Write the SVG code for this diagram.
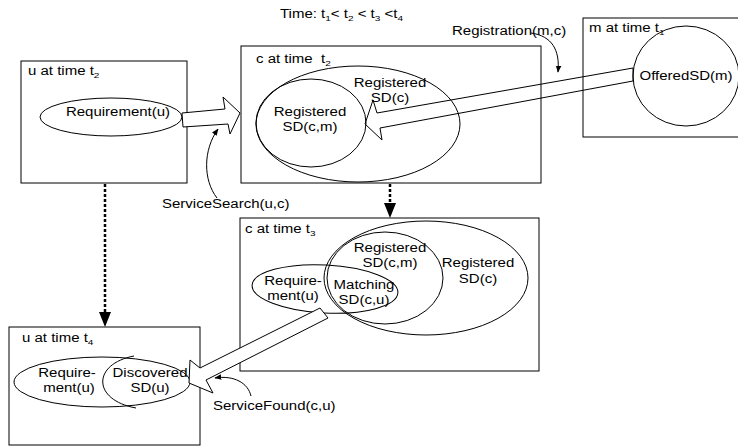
<svg xmlns="http://www.w3.org/2000/svg" width="738" height="447" viewBox="0 0 738 447">
<defs>
<style>
.box{fill:#fff;stroke:#000;stroke-width:1}
.ell{fill:none;stroke:#000;stroke-width:1}
.t{font-family:"Liberation Sans",Arial,sans-serif;font-size:12px;fill:#000}
.m{text-anchor:middle}
.s{font-size:8px}
.blk{fill:#fff;stroke:#000;stroke-width:1}
.hol{fill:none;stroke:#000;stroke-width:1}
.dot{fill:none;stroke:#000;stroke-width:2.5;stroke-dasharray:3 2}
.cur{fill:none;stroke:#000;stroke-width:1;marker-end:url(#ah)}
</style>
<marker id="ah" viewBox="0 0 10 10" refX="9" refY="5" markerWidth="7" markerHeight="7" markerUnits="userSpaceOnUse" orient="auto"><path d="M0,1 L10,5 L0,9 z" fill="#000"/></marker>
</defs>
<rect width="738" height="447" fill="#fff"/>

<!-- time ordering -->
<text class="t" transform="translate(280 18) scale(1.25 1)">Time: t<tspan class="s" dy="3">1</tspan><tspan dy="-3">&lt; t</tspan><tspan class="s" dy="3">2</tspan><tspan dy="-3"> &lt; t</tspan><tspan class="s" dy="3">3</tspan><tspan dy="-3"> &lt;t</tspan><tspan class="s" dy="3">4</tspan></text>

<!-- user at t2 -->
<g id="u-t2">
<rect class="box" x="21" y="61" width="166" height="122"/>
<text class="t" transform="translate(28 75) scale(1.25 1)">u at time t<tspan class="s" dy="3">2</tspan></text>
<ellipse class="ell" cx="111" cy="117" rx="71" ry="19"/>
<text class="t m" transform="translate(118 116) scale(1.25 1)">Requirement(u)</text>
</g>

<!-- client at t2 -->
<g id="c-t2">
<rect class="box" x="241" y="46" width="300" height="137"/>
<text class="t" transform="translate(256 63) scale(1.25 1)">c at time&#160; t<tspan class="s" dy="3">2</tspan></text>
<ellipse class="ell" cx="358" cy="124" rx="102" ry="58"/>
<ellipse class="ell" cx="311" cy="123" rx="55" ry="44"/>
<text class="t m" transform="translate(390 87) scale(1.25 1)">Registered</text>
<text class="t m" transform="translate(390 102) scale(1.25 1)">SD(c)</text>
<text class="t m" transform="translate(310 116) scale(1.25 1)">Registered</text>
<text class="t m" transform="translate(310 131) scale(1.25 1)">SD(c,m)</text>
</g>

<!-- provider at t1 -->
<g id="m-t1">
<rect class="box" x="583" y="18" width="160" height="119"/>
<text class="t" transform="translate(589 32) scale(1.25 1)">m at time t<tspan class="s" dy="3">1</tspan></text>
<ellipse class="ell" cx="686" cy="76" rx="53" ry="50"/>
<text class="t m" transform="translate(686 80) scale(1.25 1)">OfferedSD(m)</text>
</g>

<!-- client at t3 -->
<g id="c-t3">
<rect class="box" x="240" y="218" width="299" height="153"/>
<text class="t" transform="translate(245 233) scale(1.25 1)">c at time t<tspan class="s" dy="3">3</tspan></text>
<ellipse class="ell" cx="426" cy="278" rx="102" ry="57"/>
<ellipse class="ell" cx="385" cy="278" rx="58" ry="46"/>
<ellipse class="ell" cx="325" cy="289" rx="73" ry="24" transform="rotate(3 325 289)"/>
<text class="t m" transform="translate(390 252) scale(1.25 1)">Registered</text>
<text class="t m" transform="translate(390 267) scale(1.25 1)">SD(c,m)</text>
<text class="t m" transform="translate(478 267) scale(1.25 1)">Registered</text>
<text class="t m" transform="translate(478 283) scale(1.25 1)">SD(c)</text>
<text class="t m" transform="translate(293 285) scale(1.25 1)">Require-</text>
<text class="t m" transform="translate(293 300) scale(1.25 1)">ment(u)</text>
<text class="t m" transform="translate(364 289) scale(1.25 1)">Matching</text>
<text class="t m" transform="translate(364 304) scale(1.25 1)">SD(c,u)</text>
</g>

<!-- user at t4: requirement set with the discovered part on its right -->
<g id="u-t4">
<rect class="box" x="9" y="327" width="191" height="118"/>
<text class="t" transform="translate(22 342) scale(1.25 1)">u at time t<tspan class="s" dy="3">4</tspan></text>
<ellipse class="ell" cx="102" cy="382" rx="88" ry="25"/>
<path class="ell" d="M134,356 C92,364 92,400 136,408"/>
<text class="t m" transform="translate(67 377) scale(1.25 1)">Require-</text>
<text class="t m" transform="translate(69 392) scale(1.25 1)">ment(u)</text>
<text class="t m" transform="translate(150 377) scale(1.25 1)">Discovered</text>
<text class="t m" transform="translate(150 392) scale(1.25 1)">SD(u)</text>
</g>

<!-- messages and time steps -->
<g id="connectors">
<polygon class="blk" points="182,113 225,109 223,97 240,113 230,134 228,124 183,127"/>
<polygon class="hol" points="633,68 377,113 373,100 365,124 382,140 380,128 633,81"/>
<polygon class="blk" points="320,308 200,368 190,360 189,383 213,393 206,380 328,318"/>
<line class="dot" x1="105" y1="184" x2="105" y2="312"/>
<polygon points="99,312 111,312 105,327" fill="#000"/>
<line class="dot" x1="390" y1="184" x2="390" y2="203"/>
<polygon points="384,203 396,203 390,218" fill="#000"/>
<path class="cur" d="M531,33 C552,36 560,50 558,72"/>
<path class="cur" d="M217,198 C203,180 203,150 218,129"/>
<path class="cur" d="M251,396 C248,383 234,375 215,378"/>
<text class="t" transform="translate(452 35) scale(1.25 1)">Registration(m,c)</text>
<text class="t" transform="translate(162 208) scale(1.25 1)">ServiceSearch(u,c)</text>
<text class="t" transform="translate(213 410) scale(1.25 1)">ServiceFound(c,u)</text>
</g>
</svg>
